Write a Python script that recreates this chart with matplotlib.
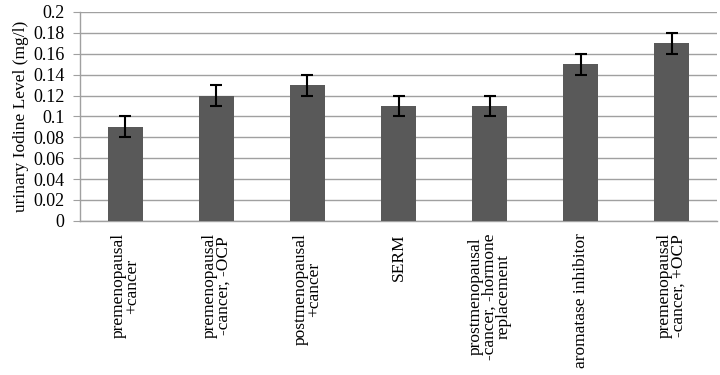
import matplotlib.pyplot as plt

categories = ["premenopausal\n+cancer",
              "premenopausal\n-cancer, -OCP",
              "postmenopausal\n+cancer",
              "SERM",
              "prostmenopausal\n-cancer, -hormone\nreplacement",
              "aromatase inhibitor",
              "premenopausal\n-cancer, +OCP"]
iodine = [0.09, 0.12, 0.13, 0.11, 0.11, 0.15, 0.17]
err = [0.01, 0.01, 0.01, 0.01, 0.01, 0.01, 0.01]
yticks = [0, 0.02, 0.04, 0.06, 0.08, 0.1, 0.12, 0.14, 0.16, 0.18, 0.2]
ytick_labels = ["0", "0.02", "0.04", "0.06", "0.08", "0.1", "0.12", "0.14", "0.16", "0.18", "0.2"]

plt.rcParams['font.family'] = ['Liberation Serif', 'DejaVu Serif']

fig = plt.figure(figsize=(7.2, 3.75), dpi=100)
ax = fig.add_axes([0.111, 0.411, 0.885, 0.557])

x = range(len(categories))
ax.bar(x, iodine, width=0.39, color='#595959', zorder=3)
ax.errorbar(x, iodine, yerr=err, fmt='none', ecolor='black', elinewidth=1.5,
            capsize=4, capthick=1.5, zorder=4)

ax.set_xlim(-0.5, len(categories) - 0.5)
ax.set_ylim(0, 0.2)
ax.set_yticks(yticks)
ax.set_yticklabels(ytick_labels, fontsize=13)
ax.set_xticks(list(x))
ax.set_xticklabels(categories, rotation=90, fontsize=12.5, ha='center',
                   va='top', multialignment='center', linespacing=0.85)
ax.tick_params(axis='x', length=0, pad=9)
ax.tick_params(axis='y', length=5, color='#a0a0a0', pad=6)
ax.grid(axis='y', color='#a0a0a0', linewidth=1, zorder=0)
for s in ['top', 'right']:
    ax.spines[s].set_visible(False)
for s in ['left', 'bottom']:
    ax.spines[s].set_color('#a0a0a0')
    ax.spines[s].set_linewidth(1)

ax.set_ylabel("urinary Iodine Level (mg/l)", fontsize=12.5, labelpad=3)

fig.savefig('out.png', dpi=100)
